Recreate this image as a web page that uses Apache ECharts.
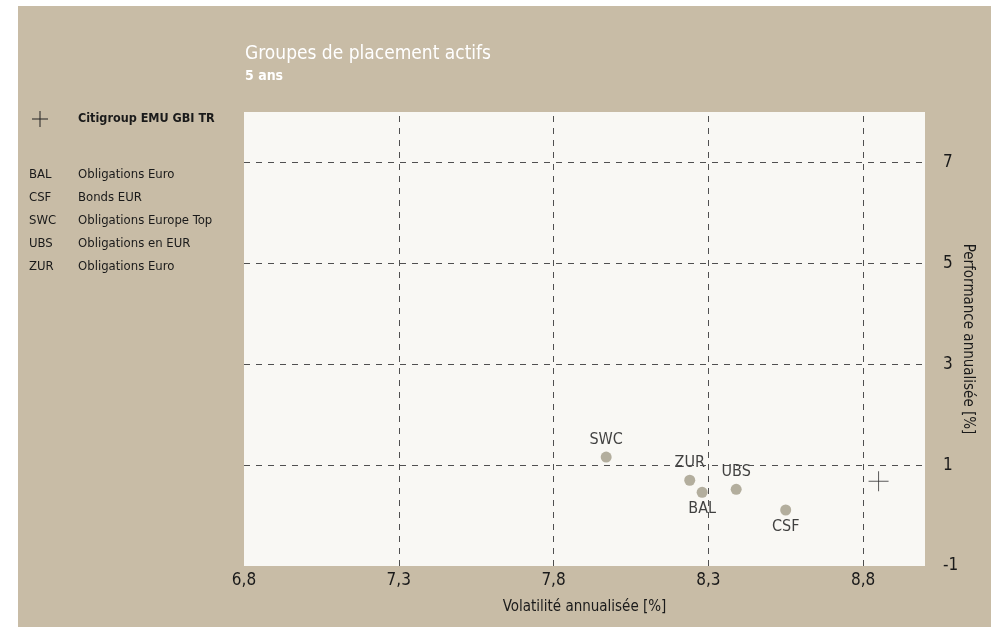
<!DOCTYPE html>
<html>
<head>
<meta charset="utf-8">
<script src="https://cdn.jsdelivr.net/npm/echarts@6/dist/echarts.min.js"></script>
<style>
html,body{margin:0;padding:0;background:#fff;}
#chart{width:991px;height:627px;}
</style>
</head>
<body>
<div id="chart"></div>
<script>
// ---- data ----
const fundCodes = ['SWC', 'ZUR', 'BAL', 'UBS', 'CSF'];
const fundVolatility = [7.97, 8.24, 8.28, 8.39, 8.55];
const fundPerformance = [1.16, 0.70, 0.46, 0.52, 0.11];
const fundLabelPos = ['top', 'top', 'bottom', 'top', 'bottom'];
const benchmarkName = 'Citigroup EMU GBI TR';
const benchmarkVolatility = [8.85];
const benchmarkPerformance = [0.68];
const legendCodes = ['BAL', 'CSF', 'SWC', 'UBS', 'ZUR'];
const legendNames = ['Obligations Euro', 'Bonds EUR', 'Obligations Europe Top', 'Obligations en EUR', 'Obligations Euro'];
const xTickValues = [6.8, 7.3, 7.8, 8.3, 8.8];
const yTickValues = [-1, 1, 3, 5, 7];
const xGridValues = [7.3, 7.8, 8.3, 8.8];
const yGridValues = [1, 3, 5, 7];
const titleText = 'Groupes de placement actifs';
const subtitleText = '5 ans';
const xAxisName = 'Volatilité annualisée [%]';
const yAxisName = 'Performance annualisée [%]';

const FONT = "'Liberation Sans Narrow', 'DejaVu Sans Condensed', 'Open Sans', sans-serif";
const isTick = (arr, v) => arr.some(t => Math.abs(t - v) < 1e-6);
const fmt = v => String(Math.round(v * 10) / 10).replace('.', ',');

const fundData = fundCodes.map((c, i) => ({
  value: [fundVolatility[i], fundPerformance[i]],
  name: c,
  label: { position: fundLabelPos[i], distance: fundLabelPos[i] === 'top' ? 4 : 3 }
}));
const benchData = benchmarkVolatility.map((v, i) => [v, benchmarkPerformance[i]]);

const gridLineStyle = { type: [6, 6], color: '#505050', width: 1 };
const markLines = xGridValues.map(v => ({ xAxis: v })).concat(yGridValues.map(v => ({ yAxis: v })));

const graphics = [
  { type: 'rect', z: -100, silent: true, shape: { x: 18, y: 6, width: 973, height: 621 }, style: { fill: '#c8bca6' } },
  { type: 'line', shape: { x1: 32, y1: 119, x2: 48, y2: 119 }, style: { stroke: '#222', lineWidth: 1 } },
  { type: 'line', shape: { x1: 40, y1: 111, x2: 40, y2: 127 }, style: { stroke: '#222', lineWidth: 1 } },
  { type: 'text', x: 78, y: 119, style: { text: benchmarkName, font: "bold 12.5px " + FONT, fill: '#1a1a1a', verticalAlign: 'middle' } }
];
legendCodes.forEach((c, i) => {
  const y = 175 + i * 23;
  graphics.push({ type: 'text', x: 29, y: y, style: { text: c, font: "13px " + FONT, fill: '#1a1a1a', verticalAlign: 'middle' } });
  graphics.push({ type: 'text', x: 78, y: y, style: { text: legendNames[i], font: "13px " + FONT, fill: '#1a1a1a', verticalAlign: 'middle' } });
});

const chart = echarts.init(document.getElementById('chart'), null, { renderer: 'canvas' });
chart.setOption({
  backgroundColor: '#ffffff',
  animation: false,
  textStyle: { fontFamily: FONT },
  title: {
    text: titleText,
    subtext: subtitleText,
    left: 240,
    top: 39,
    itemGap: 3,
    textStyle: { color: '#ffffff', fontSize: 19, fontWeight: 'normal', fontFamily: FONT, lineHeight: 21 },
    subtextStyle: { color: '#ffffff', fontSize: 14, fontWeight: 'bold', fontFamily: FONT, lineHeight: 16 }
  },
  graphic: graphics,
  grid: {
    left: 244, right: 66, top: 112, bottom: 61,
    outerBoundsMode: 'none',
    containLabel: false,
    show: true, backgroundColor: '#f9f8f4', borderWidth: 0
  },
  xAxis: {
    type: 'value',
    min: 6.8, max: 9.0, interval: 0.1,
    name: xAxisName,
    nameLocation: 'middle',
    nameGap: 34,
    nameMoveOverlap: false,
    nameTextStyle: { color: '#1a1a1a', fontSize: 15, fontFamily: FONT },
    axisLine: { show: false },
    axisTick: { show: false },
    splitLine: { show: false },
    axisLabel: {
      color: '#1a1a1a', fontSize: 17, margin: 6, fontFamily: FONT,
      showMinLabel: true, showMaxLabel: false,
      formatter: v => isTick(xTickValues, v) ? fmt(v) : ''
    }
  },
  yAxis: {
    type: 'value',
    position: 'right',
    min: -1, max: 8, interval: 1,
    name: yAxisName,
    nameLocation: 'middle',
    nameRotate: -90,
    nameGap: 35,
    nameMoveOverlap: false,
    nameTextStyle: { color: '#1a1a1a', fontSize: 15, fontFamily: FONT },
    axisLine: { show: false },
    axisTick: { show: false },
    splitLine: { show: false },
    axisLabel: {
      color: '#1a1a1a', fontSize: 17, margin: 18, fontFamily: FONT,
      showMinLabel: true, showMaxLabel: false,
      formatter: v => isTick(yTickValues, v) ? fmt(v) : ''
    }
  },
  series: [
    {
      type: 'scatter',
      name: 'grid',
      data: [],
      silent: true,
      markLine: {
        silent: true,
        symbol: ['none', 'none'],
        label: { show: false },
        lineStyle: gridLineStyle,
        emphasis: { disabled: true },
        data: markLines
      }
    },
    {
      type: 'scatter',
      name: 'funds',
      symbol: 'circle',
      symbolSize: 11,
      itemStyle: { color: '#a19b87' },
      label: {
        show: true,
        formatter: p => p.name,
        color: '#111111',
        fontSize: 16,
        fontFamily: FONT
      },
      data: fundData,
      z: 3
    },
    {
      type: 'scatter',
      name: benchmarkName,
      symbol: 'path://M0,10 L20,10 M10,0 L10,20',
      symbolSize: 20,
      itemStyle: { color: 'none', borderColor: '#333333', borderWidth: 1 },
      data: benchData,
      z: 3
    }
  ]
});
</script>
</body>
</html>
